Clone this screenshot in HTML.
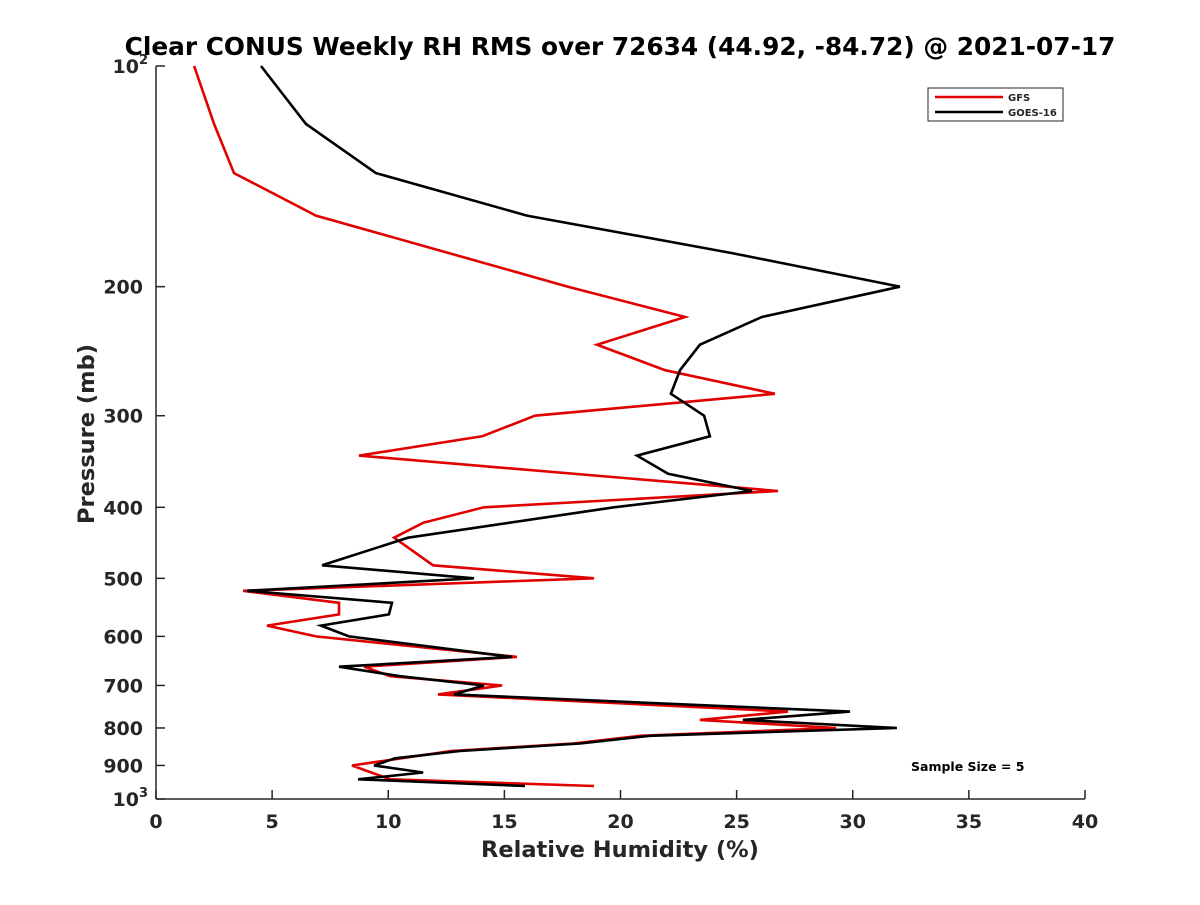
<!DOCTYPE html>
<html><head><meta charset="utf-8"><style>
body{margin:0;background:#fff;}
svg text{font-family:"DejaVu Sans","Liberation Sans",sans-serif;font-weight:bold;fill:#262626;}
</style></head><body>
<svg id="chart" width="1200" height="900" xmlns="http://www.w3.org/2000/svg">
<rect width="1200" height="900" fill="#fff"/>
<text x="620" y="55" font-size="24.8" text-anchor="middle" style="fill:#000">Clear CONUS Weekly RH RMS over 72634 (44.92, -84.72) @ 2021-07-17</text>
<g id="axes"></g>
<g id="series"></g>
<text x="620" y="857" font-size="22.5" text-anchor="middle">Relative Humidity (%)</text>
<text transform="translate(94,434) rotate(-90)" font-size="22.5" text-anchor="middle">Pressure (mb)</text>
<g>
<rect x="928" y="88" width="135" height="33" fill="#fff" stroke="#262626" stroke-width="1"/>
<line x1="935" y1="97" x2="1003" y2="97" stroke="#e00000" stroke-width="2.5"/>
<text x="1008" y="101" font-size="10">GFS</text>
<line x1="935" y1="112" x2="1003" y2="112" stroke="#000" stroke-width="2.5"/>
<text x="1008" y="116" font-size="10">GOES-16</text>
</g>
<text x="911" y="771" font-size="12.5" style="fill:#000">Sample Size = 5</text>
</svg>
<script>
const gfsPressure=[100,120,140,160,200,220,240,260,280,300,320,340,380,400,420,440,480,500,520,540,560,580,600,640,660,680,700,720,760,780,800,820,840,860,900,940,960];
const gfsValues=[1.64,2.5,3.36,6.89,17.74,22.78,18.99,21.92,26.65,16.32,14.04,8.74,26.78,14.12,11.5,10.25,11.93,18.86,3.75,7.88,7.88,4.78,6.89,15.54,8.96,10.08,14.9,12.14,27.21,23.42,29.28,20.84,17.95,12.7,8.44,10.08,18.86];
const goesPressure=[100,120,140,160,180,200,220,240,260,280,300,320,340,360,380,400,440,480,500,520,540,560,580,600,640,660,680,700,720,760,780,800,820,840,860,880,900,920,940,960];
const goesValues=[4.52,6.46,9.47,15.97,24.8,32.03,26.09,23.42,22.56,22.17,23.6,23.85,20.71,22.05,25.66,19.72,10.85,7.15,13.69,3.92,10.16,10.03,7.1,8.31,15.33,7.88,10.51,14.12,12.83,29.88,25.27,31.9,21.27,18.26,13.09,10.29,9.39,11.5,8.7,15.89];
const xTicks=[0,5,10,15,20,25,30,35,40];
const yTicks=[200,300,400,500,600,700,800,900];
const X0=156,X1=1085,Y0=66,Y1=799;
const xs=v=>X0+(v/40)*(X1-X0);
const ys=p=>Y0+(Math.log10(p)-2)*(Y1-Y0);
const NS='http://www.w3.org/2000/svg';
function mk(t,a,parent){const e=document.createElementNS(NS,t);for(const k in a)e.setAttribute(k,a[k]);parent.appendChild(e);return e;}
const ax=document.getElementById('axes');
let l=mk('line',{x1:X0,y1:Y0,x2:X0,y2:Y1,stroke:'#262626','stroke-width':1.5},ax);


l=mk('line',{x1:X0,y1:Y1,x2:X1,y2:Y1,stroke:'#262626','stroke-width':1.5},ax);


xTicks.forEach(v=>{const x=xs(v);
 const t=mk('line',{x1:x,y1:Y1,x2:x,y2:Y1-9,stroke:'#262626','stroke-width':1.5},ax);
 
 
 const tx=mk('text',{x:x,y:Y1+29,'font-size':19,'text-anchor':'middle'},ax);tx.textContent=v;
 
 
});
[100,1000].concat(yTicks).forEach(p=>{const y=ys(p);
 const t=mk('line',{x1:X0,y1:y,x2:X0+9,y2:y,stroke:'#262626','stroke-width':1.5},ax);
 
 
 const tx=mk('text',{x:X0-13,y:y+7,'font-size':19,'text-anchor':'end'},ax);
 
 
 if(p===100||p===1000){tx.textContent='10';const s=mk('tspan',{dy:-9,'font-size':13},tx);s.textContent=p===100?'2':'3';tx.setAttribute('x',X0-8);}
 else tx.textContent=p;
});
const sg=document.getElementById('series');
function line(P,V,color,name){
 const pts=P.map((p,i)=>xs(V[i]).toFixed(1)+','+ys(p).toFixed(1)).join(' ');
 const e=mk('polyline',{points:pts,fill:'none',stroke:color,'stroke-width':2.6,'stroke-linejoin':'miter'},sg);
 
 
}
line(gfsPressure,gfsValues,'#e00000','gfs-line');
line(goesPressure,goesValues,'#000000','goes16-line');
</script>
</body></html>
